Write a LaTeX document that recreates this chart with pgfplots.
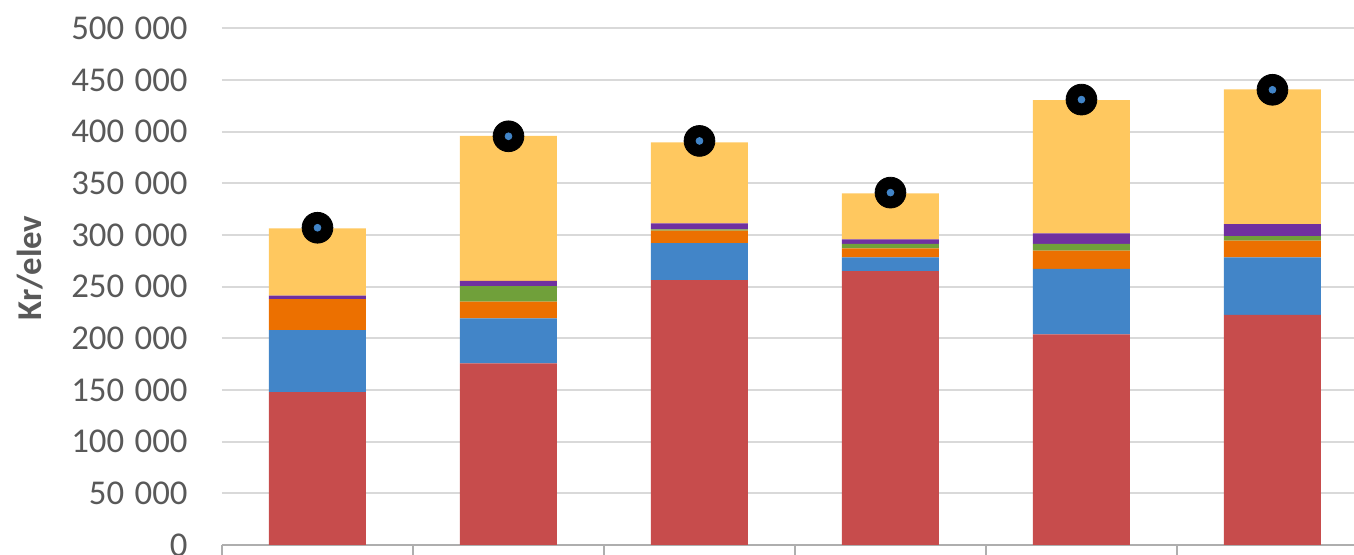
\documentclass[border=0pt]{standalone}
\usepackage{fontspec}
\setmainfont{Carlito}
\usepackage{pgfplots}
\pgfplotsset{compat=1.18}

\definecolor{cRed}{RGB}{199,76,76}
\definecolor{cBlue}{RGB}{66,133,200}
\definecolor{cOrange}{RGB}{236,112,0}
\definecolor{cGreen}{RGB}{112,160,58}
\definecolor{cPurple}{RGB}{112,48,160}
\definecolor{cYellow}{RGB}{255,200,95}
\definecolor{cText}{RGB}{89,89,89}
\definecolor{cGrid}{RGB}{217,217,217}

\pgfplotsset{
  common/.style={
    scale only axis,
    width=566pt, height=258.35pt,
    xmin=-0.5, xmax=5.427,
    ymin=0, ymax=500000,
  }
}

\begin{document}
\begin{tikzpicture}
\useasboundingbox (-111pt,-5pt) rectangle (566pt,272.5pt);
\begin{axis}[
  common,
  ybar stacked,
  bar width=48.5pt,
  axis lines*=left,
  x axis line style={-, draw=cGrid!80!black, line width=0.9pt},
  y axis line style={draw=none},
  xtick={-0.5,0.5,1.5,2.5,3.5,4.5},
  xticklabels={},
  xtick align=outside,
  major tick length=9pt,
  xtick style={draw=cGrid!80!black, line width=0.9pt},
  ytick={0,50000,...,500000},
  ytick style={draw=none},
  ymajorgrids,
  major grid style={draw=cGrid, line width=0.9pt},
  scaled y ticks=false,
  /pgf/number format/.cd, fixed, 1000 sep={\hspace{0.3em}}, assume math mode=true,
  /pgfplots/.cd,
  yticklabel style={font=\fontsize{17.4}{20}\selectfont, text=cText, anchor=east, inner sep=0pt, xshift=-17pt},
  ylabel={Kr/elev},
  ylabel style={at={(axis description cs:-0.1696,0.536)}, anchor=center, font=\fontsize{17.4}{20}\selectfont\bfseries, text=cText},
  every axis plot/.append style={draw=none},
]
\addplot[fill=cRed] coordinates {(0,148000) (1,175800) (2,256400) (3,265100) (4,203900) (5,222600)};
\addplot[fill=cBlue] coordinates {(0,60000) (1,43600) (2,35600) (3,13300) (4,63200) (5,55800)};
\addplot[fill=cOrange] coordinates {(0,30000) (1,16000) (2,12200) (3,8700) (4,17700) (5,16100)};
\addplot[fill=cGreen] coordinates {(0,0) (1,15200) (2,1300) (3,4200) (4,6500) (5,4500)};
\addplot[fill=cPurple] coordinates {(0,3300) (1,4900) (2,5800) (3,4500) (4,10300) (5,11600)};
\addplot[fill=cYellow] coordinates {(0,65200) (1,140300) (2,78400) (3,44500) (4,129000) (5,130400)};
\end{axis}
\begin{axis}[
  common,
  hide axis,
]
\addplot[only marks, mark=*, mark size=7.7pt, mark options={fill=black, draw=black}]
  coordinates {(0,307000) (1,395500) (2,391000) (3,341000) (4,431000) (5,440500)};
\addplot[only marks, mark=*, mark size=1.7pt, mark options={fill=cBlue, draw=cBlue}]
  coordinates {(0,307000) (1,395500) (2,391000) (3,341000) (4,431000) (5,440500)};
\end{axis}
\end{tikzpicture}
\end{document}
